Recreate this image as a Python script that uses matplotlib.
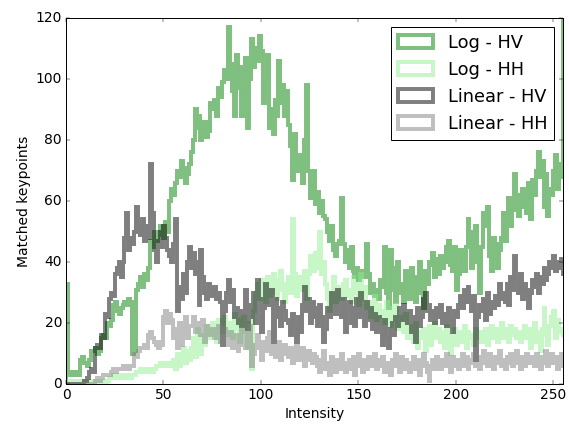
import matplotlib
matplotlib.use("Agg")
import matplotlib.pyplot as plt
import numpy as np

# matched keypoints per intensity bin (bins 0..255)
log_hv = [
    33, 3, 4, 3, 4, 4, 3, 8, 9, 7, 7, 6, 8, 11, 11, 12,
    10, 11, 15, 16, 15, 20, 19, 21, 26, 27, 24, 23, 25, 26, 27, 26,
    28, 27, 10, 11, 31, 33, 35, 32, 36, 34, 38, 47, 45, 50, 47, 49,
    52, 51, 48, 53, 50, 60, 64, 62, 66, 70, 68, 73, 71, 66, 69, 72,
    76, 80, 90, 84, 88, 80, 82, 86, 81, 83, 92, 90, 93, 88, 97, 94,
    99, 103, 100, 117, 105, 96, 88, 108, 97, 104, 88, 95, 107, 84, 100, 113,
    104, 110, 106, 114, 109, 92, 100, 108, 84, 90, 82, 93, 88, 106, 92, 98,
    88, 96, 85, 78, 67, 82, 72, 70, 75, 66, 80, 98, 70, 61, 66, 70,
    59, 63, 56, 60, 55, 54, 50, 47, 52, 44, 42, 46, 47, 61, 46, 40,
    44, 38, 45, 37, 35, 38, 34, 36, 37, 35, 46, 36, 30, 33, 29, 31,
    28, 34, 32, 45, 30, 25, 44, 38, 31, 27, 40, 33, 30, 27, 37, 32,
    28, 38, 35, 27, 34, 40, 30, 25, 37, 33, 40, 39, 43, 35, 41, 36,
    42, 38, 40, 45, 47, 39, 37, 45, 31, 36, 44, 40, 37, 45, 54, 50,
    38, 47, 52, 40, 30, 45, 56, 52, 58, 42, 37, 48, 46, 38, 44, 48,
    56, 47, 54, 61, 52, 57, 69, 62, 55, 58, 64, 60, 56, 66, 54, 67,
    62, 70, 76, 68, 73, 58, 69, 55, 64, 62, 70, 75, 64, 72, 68, 150,
]
log_hh = [
    0, 1, 0, 0, 1, 0, 0, 1, 0, 0, 1, 0, 1, 0, 0, 1,
    0, 1, 0, 1, 0, 1, 2, 2, 3, 2, 2, 3, 2, 2, 3, 2,
    3, 2, 3, 3, 4, 4, 5, 4, 4, 5, 4, 5, 4, 5, 6, 6,
    7, 6, 6, 7, 6, 7, 6, 8, 5, 10, 6, 9, 12, 7, 11, 8,
    12, 15, 9, 18, 14, 10, 16, 13, 19, 15, 17, 20, 16, 14, 21, 18,
    17, 22, 19, 16, 20, 15, 23, 18, 21, 14, 19, 22, 17, 12, 20, 5,
    24, 30, 33, 28, 34, 31, 27, 35, 29, 33, 36, 30, 28, 34, 37, 31,
    27, 33, 35, 30, 54, 36, 29, 32, 35, 31, 37, 28, 36, 42, 40, 37,
    43, 38, 50, 36, 40, 33, 28, 24, 30, 35, 27, 32, 30, 28, 33, 34,
    29, 31, 27, 35, 33, 30, 26, 36, 28, 32, 25, 27, 22, 24, 29, 21,
    26, 22, 24, 20, 27, 23, 19, 25, 21, 26, 18, 22, 20, 17, 23, 15,
    19, 16, 14, 20, 12, 17, 15, 18, 11, 16, 19, 13, 17, 20, 15, 18,
    14, 17, 12, 19, 16, 10, 15, 18, 13, 17, 16, 14, 19, 12, 17, 15,
    16, 13, 18, 15, 17, 14, 16, 18, 13, 17, 19, 15, 18, 14, 16, 20,
    15, 18, 17, 14, 19, 16, 18, 15, 17, 14, 16, 19, 15, 18, 12, 16,
    20, 14, 17, 11, 18, 25, 16, 13, 19, 22, 24, 15, 21, 18, 17, 16,
]
lin_hv = [
    0, 0, 0, 0, 0, 0, 0, 0, 0, 1, 1, 2, 4, 5, 4, 12,
    13, 12, 16, 15, 23, 22, 28, 30, 29, 36, 38, 40, 35, 40, 48, 56,
    44, 48, 46, 50, 58, 52, 49, 54, 47, 52, 48, 72, 56, 44, 40, 47,
    50, 45, 52, 48, 44, 42, 40, 46, 54, 24, 32, 28, 36, 30, 40, 45,
    38, 43, 36, 40, 26, 44, 35, 30, 28, 33, 31, 29, 32, 28, 30, 27,
    13, 24, 30, 34, 27, 31, 22, 25, 20, 24, 19, 23, 31, 18, 26, 22,
    30, 20, 34, 28, 17, 25, 33, 29, 26, 31, 14, 28, 22, 25, 19, 27,
    24, 21, 20, 16, 23, 18, 14, 22, 17, 26, 32, 24, 28, 20, 27, 22,
    25, 19, 26, 22, 14, 18, 25, 22, 30, 27, 23, 31, 26, 22, 28, 17,
    24, 27, 20, 25, 19, 28, 22, 30, 24, 19, 27, 21, 25, 18, 23, 17,
    22, 19, 13, 21, 15, 12, 18, 20, 16, 22, 19, 25, 21, 26, 23, 20,
    24, 17, 22, 14, 25, 19, 22, 28, 30, 24, 26, 21, 24, 20, 25, 22,
    26, 20, 23, 19, 25, 21, 17, 24, 22, 26, 29, 25, 31, 27, 32, 28,
    24, 29, 8, 22, 26, 24, 28, 21, 30, 23, 27, 25, 29, 26, 33, 28,
    30, 27, 33, 26, 35, 31, 42, 34, 30, 36, 28, 33, 31, 25, 30, 34,
    32, 36, 30, 35, 33, 38, 34, 36, 40, 38, 42, 37, 40, 38, 41, 36,
]
lin_hh = [
    0, 0, 0, 0, 0, 0, 0, 0, 0, 0, 0, 0, 0, 0, 0, 1,
    2, 1, 2, 3, 3, 3, 3, 4, 5, 4, 5, 5, 5, 6, 5, 6,
    5, 6, 6, 10, 9, 11, 12, 12, 13, 12, 16, 17, 15, 14, 13, 12,
    14, 13, 22, 24, 20, 23, 21, 15, 18, 12, 20, 13, 18, 22, 15, 19,
    19, 22, 17, 20, 18, 16, 21, 14, 19, 17, 16, 18, 15, 17, 19, 14,
    16, 18, 13, 15, 17, 12, 14, 16, 11, 13, 18, 15, 12, 17, 19, 6,
    10, 13, 16, 12, 8, 14, 11, 15, 17, 10, 13, 9, 12, 14, 8, 11,
    13, 10, 9, 12, 7, 11, 14, 8, 10, 12, 6, 9, 11, 8, 7, 10,
    9, 6, 4, 8, 11, 5, 7, 3, 9, 6, 4, 8, 5, 10, 7, 4,
    6, 8, 5, 9, 3, 7, 10, 6, 4, 8, 5, 9, 7, 6, 10, 5,
    8, 6, 9, 4, 7, 5, 3, 8, 6, 10, 7, 4, 9, 5, 8, 6,
    4, 7, 9, 5, 8, 3, 6, 10, 7, 4, 1, 6, 8, 5, 9, 7,
    5, 8, 6, 10, 7, 4, 9, 6, 8, 5, 7, 10, 6, 9, 5, 8,
    7, 10, 6, 8, 5, 9, 11, 7, 6, 10, 8, 5, 9, 7, 11, 6,
    8, 5, 9, 7, 10, 6, 8, 11, 7, 5, 9, 6, 10, 8, 7, 9,
    6, 10, 8, 5, 9, 7, 11, 6, 8, 10, 7, 9, 5, 8, 10, 6,
]

plt.style.use("classic")
plt.rcParams.update({"figure.facecolor": "white", "savefig.facecolor": "white",
                     "font.size": 14})

edges = np.arange(257)
centers = edges[:-1] + 0.5

fig, ax = plt.subplots(figsize=(8, 6.004), dpi=71.125)
fig.subplots_adjust(left=0.116, right=0.9895, top=0.958, bottom=0.1)

series = [(log_hv, "green", "Log - HV"),
          (log_hh, "lightgreen", "Log - HH"),
          (lin_hv, "black", "Linear - HV"),
          (lin_hh, "gray", "Linear - HH")]
for vals, color, label in series:
    ax.hist(centers, bins=edges, weights=vals, histtype="step",
            color=color, alpha=0.5, lw=4, label=label)

ax.set_xlim(0, 255)
ax.set_ylim(0, 120)
ax.set_xlabel("Intensity")
ax.set_ylabel("Matched keypoints")
ax.legend(loc="upper right", fontsize=18)

fig.savefig("out.png", dpi=71.125)
